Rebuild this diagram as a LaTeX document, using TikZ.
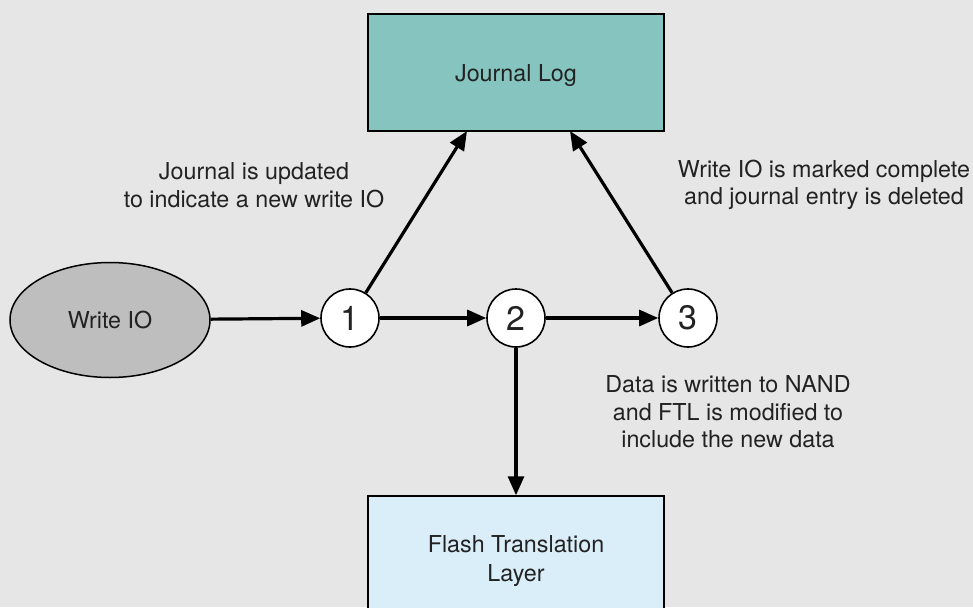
\documentclass[tikz,border=0pt]{standalone}
\usepackage{fontspec}
\setmainfont{TeX Gyre Heros}
\usetikzlibrary{arrows.meta,shapes.geometric}
\definecolor{bg}{HTML}{E6E6E6}
\definecolor{jlfill}{HTML}{86C5BF}
\definecolor{ftlfill}{HTML}{DAEEFA}
\definecolor{iofill}{HTML}{BEBEBE}
\definecolor{txt}{HTML}{222222}
\begin{document}
\begin{tikzpicture}[x=1pt,y=-1pt,
  every node/.style={text=txt,font=\fontsize{23.3}{27.5}\selectfont},
  boxnode/.style={draw=black,line width=1.5pt,minimum width=296pt,align=center},
  stepcircle/.style={circle,draw=black,fill=white,line width=1.6pt,minimum size=58pt,inner sep=0pt,font=\fontsize{34}{34}\selectfont},
  arr/.style={line width=3.2pt,-{Triangle[length=19pt,width=16pt]}},
  lbl/.style={align=center}]
\fill[bg] (0,0) rectangle (973,607);
\useasboundingbox (0,0) rectangle (973,607);
\node[boxnode,fill=jlfill,minimum height=117pt,label={[yshift=-3.5pt]center:Journal Log}] (jl) at (516,72.5) {};
\node[boxnode,fill=ftlfill,minimum height=130pt] (ftl) at (516,561) {Flash Translation\\[2pt]Layer};
\node[ellipse,draw=black,line width=1.5pt,fill=iofill,minimum width=200pt,minimum height=115pt,inner sep=0pt] (wio) at (110,320) {Write IO};
\node[stepcircle] (c1) at (350,318) {1};
\node[stepcircle] (c2) at (516,318) {2};
\node[stepcircle] (c3) at (688,318) {3};
\coordinate (jlA) at (467,131);
\coordinate (jlB) at (570,131);
\draw[arr] (wio) -- (c1);
\draw[arr] (c1) -- (c2);
\draw[arr] (c2) -- (c3);
\draw[arr] (c1) -- (jlA);
\draw[arr] (c3) -- (jlB);
\draw[arr] (c2) -- (ftl);
\node[lbl] (l1) at (254,185) {Journal is updated\\to indicate a new write IO};
\node[lbl] (l3) at (824,185) {Write IO is marked complete\\and journal entry is deleted};
\node[lbl] (l2) at (728,412) {Data is written to NAND\\and FTL is modified to\\include the new data};
\end{tikzpicture}
\end{document}
